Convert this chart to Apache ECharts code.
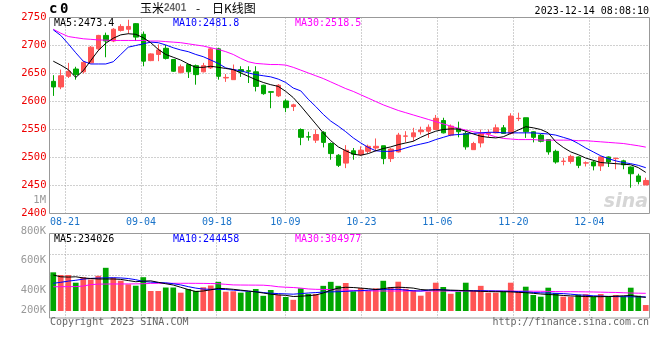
<!DOCTYPE html>
<html><head><meta charset="utf-8">
<script src="https://cdn.jsdelivr.net/npm/echarts@6/dist/echarts.min.js"></script>
<style>html,body{margin:0;padding:0;background:#fff;}#c{width:660px;height:360px;}</style>
</head><body><div id="c"></div>
<script>
const dates = ['08-17','08-18','08-21','08-22','08-23','08-24','08-25','08-28','08-29','08-30','08-31',
'09-01','09-04','09-05','09-06','09-07','09-08','09-11','09-12','09-13','09-14','09-15','09-18','09-19','09-20','09-21','09-22','09-25','09-26','09-27','09-28',
'10-09','10-10','10-11','10-12','10-13','10-16','10-17','10-18','10-19','10-20','10-23','10-24','10-25','10-26','10-27','10-30','10-31',
'11-01','11-02','11-03','11-06','11-07','11-08','11-09','11-10','11-13','11-14','11-15','11-16','11-17','11-20','11-21','11-22','11-23','11-24','11-27','11-28','11-29','11-30',
'12-01','12-04','12-05','12-06','12-07','12-08','12-11','12-12','12-13','12-14'];
const tickLabels = ['08-21','09-04','09-18','10-09','10-23','11-06','11-20','12-04'];
const priceTicks = [2400,2450,2500,2550,2600,2650,2700,2750];
const volTickLabels = ['800K','600K','400K','200K'];

const opens  = [2636,2626,2645,2658,2653,2669,2694,2718,2708,2727,2729,2739,2720,2673,2684,2695,2675,2652,2666,2664,
2653,2660,2694,2642,2639,2657,2655,2653,2629,2617.5,2610,2601,2591,2550,2537,2531,2545,2525,2504,2490,
2512,2505,2511,2517,2521,2498,2510,2538,2537,2546,2547,2550,2566,2540,2552,2543,2514,2526,2542,2544,
2553,2543,2569.5,2571,2546,2540,2532,2511,2493,2493,2501,2490,2492,2485,2501,2498,2494,2483,2467,2451];
const closes = [2626,2646,2654,2648,2670,2697,2718,2708,2729,2734,2734,2715,2672,2685,2692,2677,2654,2662,2653,2648,
2664,2694,2645,2643,2657,2653,2654,2627,2614,2616.5,2629,2589,2594,2536,2536.5,2541,2527,2507,2486,2513,
2506,2513,2520,2520,2498,2515,2540,2538.5,2544,2549,2554,2570,2544,2556,2546,2519,2525,2542,2544,2553,
2543,2574,2570,2546,2536,2529,2510,2492,2493.5,2502,2486,2490.5,2485,2501,2492,2498.5,2487,2471,2457,2459];
const lows   = [2610,2622,2642,2639,2650,2668,2690,2679,2706,2725,2721,2708,2663,2672,2672,2675,2653,2650,2642,2630,
2652,2658,2639,2635,2639,2644,2633,2618,2612,2588,2608,2581,2583,2522,2530,2526,2518,2496,2483,2481,
2496,2503,2508,2511,2488,2492,2509,2527,2529,2541,2535,2550,2543,2538,2536,2514,2514,2518,2536,2543,
2542,2541,2565,2535,2527,2527,2505,2489,2486,2489,2481,2484,2477,2476,2483,2479,2479,2446,2452,2451];
const highs  = [2647,2657,2669,2662,2672,2699,2719,2723,2731,2738,2746,2740,2725,2686,2702,2701,2676,2666,2667,2666,
2669,2696,2696,2649,2666,2663,2663,2663,2630,2618,2631,2604,2596,2552,2546,2550,2547,2527,2506,2522,
2517,2520,2523,2534,2521,2517,2544,2547,2553,2555,2559,2576,2571,2559,2564,2547,2528,2550,2550,2559,
2558,2579,2580,2571,2547,2542,2532,2514,2499,2505,2502,2493,2495,2502,2502,2500,2496,2484,2471,2464];

const ma5  = [2672,2665,2657,2643,2655,2673,2691,2704,2713,2719,2721,2720,2714,2705,2693,2684,2679,2674,2667,2661,
2661,2663,2661,2659,2657,2651,2645,2639,2634,2630,2627,2618,2607,2592,2576,2560,2544,2530,2519,2512,
2506,2504,2507,2512,2516,2519,2523,2526,2529,2536,2542,2547,2550,2551,2551,2547,2542,2538,2536,2535,
2537,2543,2549,2555,2553,2550,2544,2528,2518,2510,2505,2499,2495,2491,2490,2489,2488,2487,2482,2473.4];
const ma10 = [2728,2718,2703,2687,2672,2667,2667,2667,2671,2684,2697,2700,2703,2706,2705,2701,2696,2692,2689,2684,
2680,2674,2668,2660,2657,2655,2651,2648,2646,2644,2640,2634,2624,2619,2604,2591,2577,2565,2556,2546,
2535,2526,2518,2512,2511,2511,2513,2517,2521,2524,2527,2532,2536,2540,2541,2542,2543,2544,2545,2545,
2544,2544,2544,2544,2544,2543,2542,2540,2536,2532,2525,2517,2510,2503,2498,2494,2491,2489,2486,2481.8];
const ma30 = [2729,2722,2716,2714,2712,2711,2710,2709.5,2709,2709,2709,2709,2709,2708,2708,2707,2706,2705,2703,2701,
2699,2696,2693,2689,2684,2677,2671,2668,2667,2666,2666,2665,2661,2656,2651,2646,2641,2635,2629,2623,
2618,2612,2606,2600,2594,2589,2584,2580,2576,2572,2568,2564,2560,2556,2552,2549,2546,2544,2541,2537,
2534,2533,2532,2532,2532,2531,2531,2531,2531,2531,2530,2530,2529,2528,2527,2526,2525,2523,2521,2518.5];

// volume in thousand lots
const volumes = [667,621,621,488,581,543,607,745,574,522,460,436,583,345,345,405,405,316,379,348,
409,440,503,333,340,316,333,379,262,362,279,241,193,391,293,293,434,503,434,483,
338,397,348,391,521,414,505,383,362,264,333,488,414,297,333,488,345,434,316,316,
338,488,340,419,276,247,402,310,247,247,281,290,247,293,259,276,253,402,264,103];
const volMa5  = [621,590,585,590,570,560,552,552,552,545,525,505,515,520,495,470,448,409,370,335,
345,365,390,385,374,360,345,330,310,290,278,270,250,255,264,276,310,360,395,409,
405,395,385,370,385,405,410,405,395,370,362,362,362,360,356,350,345,340,335,333,
333,330,322,316,305,293,285,278,268,260,255,250,247,247,250,256,262,268,250,234.026];
const volMa10 = [478,495,515,530,550,562,568,572,574,570,560,540,510,498,490,486,470,450,420,395,
378,374,374,370,360,350,340,333,318,307,300,295,290,300,310,318,325,330,333,338,
345,350,360,368,374,374,374,360,348,345,360,372,365,352,350,350,350,350,348,345,
343,340,335,330,320,314,310,305,300,290,278,272,262,258,252,248,247,245,244,244.458];
const volMa30 = [418,419,420,421,430,455,463,465,466,466,467,468,470,476,478,478,478,478,478,477,
476,474,470,460,450,448,447,446,445,435,418,410,405,395,380,374,372,368,362,360,
355,350,347,346,345,345,345,345,345,345,345,345,345,345,345,345,345,345,344,344,
343,343,342,342,341,340,338,335,333,333,332,330,328,325,322,320,315,310,307,304.977];

const RED = '#ff5555', GREEN = '#00a600';
const MONO = 'DejaVu Sans Mono';
const GRIDC = '#a0a0a0';
const tickIdx = tickLabels.map(t => dates.indexOf(t));
const last = a => a[a.length - 1];
const kData = opens.map((o, i) => [o, closes[i], lows[i], highs[i]]);
const volColor = p => closes[p.dataIndex] >= opens[p.dataIndex] ? RED : GREEN;
const GL = 49.5, GW = 600;
const XMIN = -0.0395, XMAX = 78.908;
const crisp = v => Math.round(v - 0.5) + 0.5;
const dash = {stroke: GRIDC, lineWidth: 1, lineDash: [1, 2]};

// vertical dotted lines at the date ticks, placed through the value x-axis
const vGrid = (xi, yi, yv) => ({type: 'custom', xAxisIndex: xi, yAxisIndex: yi, silent: true, z: 1,
  data: tickIdx.map(i => [i, yv]),
  renderItem: (params, api) => {
    const cs = params.coordSys; const x = crisp(api.coord([api.value(0), api.value(1)])[0]);
    return {type: 'line', shape: {x1: x, y1: cs.y, x2: x, y2: cs.y + cs.height}, style: dash};
  }});
// horizontal dotted lines at y ticks
const hGrid = (xi, yi, vals, xv) => ({type: 'custom', xAxisIndex: xi, yAxisIndex: yi, silent: true, z: 1,
  data: vals.map(v => [xv, v]),
  renderItem: (params, api) => {
    const cs = params.coordSys; const y = crisp(api.coord([api.value(0), api.value(1)])[1]);
    return {type: 'line', shape: {x1: cs.x, y1: y, x2: cs.x + cs.width, y2: y}, style: dash};
  }});

const chart = echarts.init(document.getElementById('c'), null, {renderer: 'canvas'});
chart.setOption({
  animation: false,
  backgroundColor: '#fff',
  grid: [
    {left: GL, top: 17.5, width: GW, height: 196, show: true, borderColor: '#999', borderWidth: 1, backgroundColor: 'rgba(0,0,0,0)'},
    {left: GL, top: 234, width: GW, height: 77},
    {left: GL, top: 233.5, width: GW, height: 84.5, show: true, borderColor: '#999', borderWidth: 1, backgroundColor: 'rgba(0,0,0,0)'}
  ],
  xAxis: [
    {type: 'category', gridIndex: 0, data: dates, show: false, boundaryGap: true, position: 'top'},
    {type: 'value', gridIndex: 0, min: XMIN, max: XMAX, position: 'bottom', axisLine: {show: false},
      axisTick: {show: false, customValues: tickIdx},
      axisLabel: {customValues: tickIdx, formatter: v => dates[Math.round(v)], color: '#1a73c9',
        fontFamily: MONO, fontSize: 10, margin: 4},
      splitLine: {show: false}},
    {type: 'category', gridIndex: 1, data: dates, show: false, boundaryGap: true, position: 'top'},
    {type: 'value', gridIndex: 2, min: XMIN, max: XMAX, position: 'bottom', show: false, splitLine: {show: false}}
  ],
  yAxis: [
    {type: 'value', gridIndex: 0, min: priceTicks[0], max: last(priceTicks), interval: 50,
      axisLine: {show: false}, axisTick: {show: false},
      axisLabel: {color: '#ee0000', fontFamily: MONO, fontSize: 10.5, margin: 3, padding: [0, 0, 4, 0],
        formatter: v => String(v)},
      splitLine: {show: false}},
    {type: 'value', gridIndex: 1, min: 0, max: 1328, show: false, splitLine: {show: false}},
    {type: 'value', gridIndex: 2, min: 0, max: 4, interval: 1, show: false, splitLine: {show: false}}
  ],
  series: [
    vGrid(1, 0, 2575),
    hGrid(1, 0, priceTicks.slice(1, -1), 40),
    vGrid(3, 2, 2),
    hGrid(3, 2, [2, 3], 40),
    {type: 'candlestick', xAxisIndex: 0, yAxisIndex: 0, data: kData, barWidth: 5,
      itemStyle: {color: RED, color0: GREEN, borderColor: RED, borderColor0: GREEN, borderWidth: 1}, z: 2},
    {type: 'line', xAxisIndex: 0, yAxisIndex: 0, data: ma30, symbol: 'none', lineStyle: {color: '#ff00ff', width: 1}, z: 3},
    {type: 'line', xAxisIndex: 0, yAxisIndex: 0, data: ma10, symbol: 'none', lineStyle: {color: '#0000ff', width: 1}, z: 3},
    {type: 'line', xAxisIndex: 0, yAxisIndex: 0, data: ma5, symbol: 'none', lineStyle: {color: '#000000', width: 1}, z: 3},
    {type: 'bar', xAxisIndex: 2, yAxisIndex: 1, data: volumes, barWidth: 5.7, itemStyle: {color: volColor}, z: 2},
    {type: 'line', xAxisIndex: 2, yAxisIndex: 1, data: volMa30, symbol: 'none', lineStyle: {color: '#ff00ff', width: 1}, z: 3},
    {type: 'line', xAxisIndex: 2, yAxisIndex: 1, data: volMa10, symbol: 'none', lineStyle: {color: '#0000ff', width: 1}, z: 3},
    {type: 'line', xAxisIndex: 2, yAxisIndex: 1, data: volMa5, symbol: 'none', lineStyle: {color: '#000000', width: 1}, z: 3}
  ],
  graphic: [
    {type: 'text', left: 49, top: 2, style: {text: 'c', font: 'bold 14px "DejaVu Sans Mono"', fill: '#000'}},
    {type: 'text', left: 60, top: 2, style: {text: '0', font: 'bold 14px "DejaVu Sans Mono"', fill: '#000'}},
    {type: 'text', left: 140, top: 2, style: {text: '玉米', font: '12px "Noto Sans CJK SC"', fill: '#000'}},
    {type: 'text', left: 164, top: 3, style: {text: '2401', font: 'bold 10px "Liberation Sans"', fill: '#666'}},
    {type: 'text', left: 196, top: 2, style: {text: '-', font: '12px "Noto Sans CJK SC"', fill: '#000'}},
    {type: 'text', left: 212, top: 2, style: {text: '日K线图', font: '12px "Noto Sans CJK SC"', fill: '#000'}},
    {type: 'text', right: 11, top: 6, style: {text: '2023-12-14 08:08:10', font: '10px "DejaVu Sans Mono"', fill: '#000'}},
    {type: 'text', left: 54, top: 18, style: {text: 'MA5:' + last(ma5).toFixed(1), font: '10px "DejaVu Sans Mono"', fill: '#000'}},
    {type: 'text', left: 173, top: 18, style: {text: 'MA10:' + last(ma10).toFixed(1), font: '10px "DejaVu Sans Mono"', fill: '#0000ff'}},
    {type: 'text', left: 295, top: 18, style: {text: 'MA30:' + last(ma30).toFixed(1), font: '10px "DejaVu Sans Mono"', fill: '#ff00ff'}},
    {type: 'text', left: 54, top: 234, style: {text: 'MA5:' + Math.round(last(volMa5) * 1000), font: '10px "DejaVu Sans Mono"', fill: '#000'}},
    {type: 'text', left: 173, top: 234, style: {text: 'MA10:' + Math.round(last(volMa10) * 1000), font: '10px "DejaVu Sans Mono"', fill: '#0000ff'}},
    {type: 'text', left: 295, top: 234, style: {text: 'MA30:' + Math.round(last(volMa30) * 1000), font: '10px "DejaVu Sans Mono"', fill: '#ff00ff'}},
    {type: 'text', right: 614, top: 195, style: {text: '1M', font: '10.5px "DejaVu Sans Mono"', fill: '#999'}},
    {type: 'text', right: 614, top: 226, style: {text: volTickLabels[0], font: '10.5px "DejaVu Sans Mono"', fill: '#999'}},
    {type: 'text', right: 614, top: 255, style: {text: volTickLabels[1], font: '10.5px "DejaVu Sans Mono"', fill: '#999'}},
    {type: 'text', right: 614, top: 285, style: {text: volTickLabels[2], font: '10.5px "DejaVu Sans Mono"', fill: '#999'}},
    {type: 'text', right: 614, top: 305, style: {text: volTickLabels[3], font: '10.5px "DejaVu Sans Mono"', fill: '#999'}},
    {type: 'text', left: 50, top: 317, style: {text: 'Copyright 2023 SINA.COM', font: '10px "DejaVu Sans Mono"', fill: '#666'}},
    {type: 'text', right: 11, top: 317, style: {text: 'http://finance.sina.com.cn', font: '10px "DejaVu Sans Mono"', fill: '#666'}},
    {type: 'text', right: 12, top: 193, style: {text: 'sina', font: 'italic bold 19px "DejaVu Sans"', fill: '#d6d6d6'}}
  ]
});
</script></body></html>
